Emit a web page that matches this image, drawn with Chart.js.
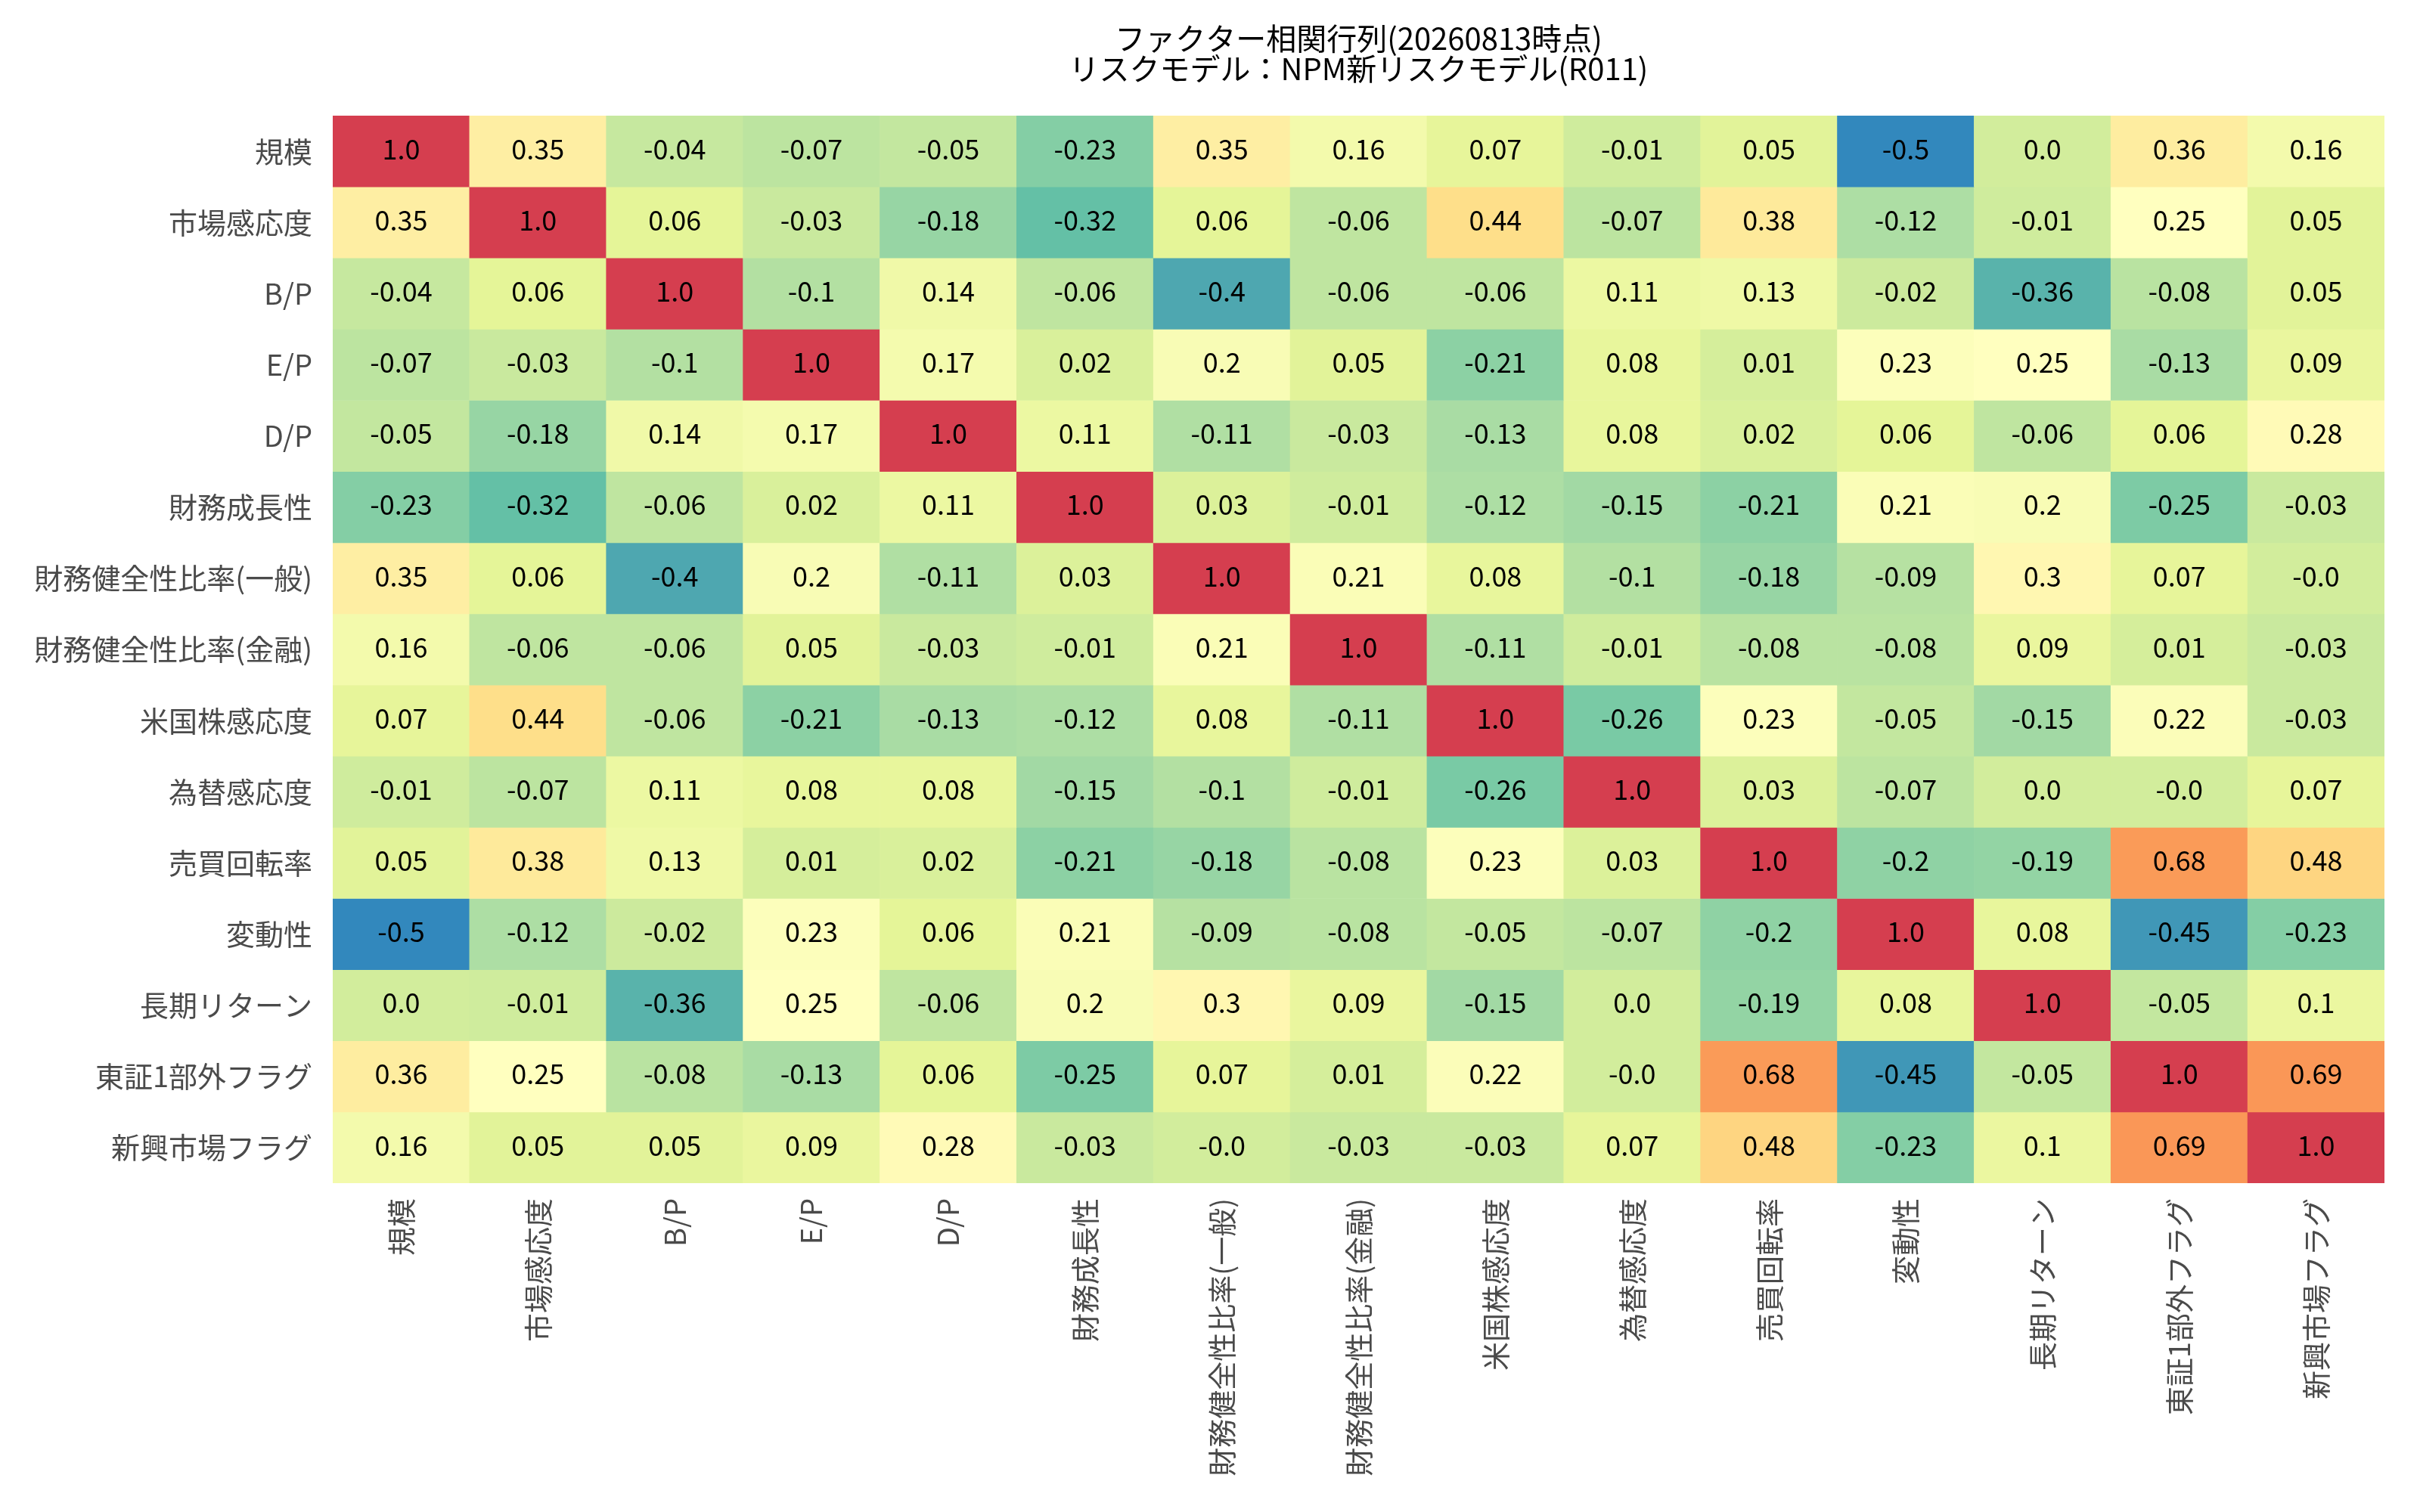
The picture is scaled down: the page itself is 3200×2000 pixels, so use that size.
<!DOCTYPE html>
<html>
<head>
<meta charset="utf-8">
<script src="https://cdn.jsdelivr.net/npm/chart.js@4.4.1/dist/chart.umd.min.js"></script>
<style>
html,body{margin:0;padding:0;background:#fff;}
#wrap{width:3200px;height:2000px;}
</style>
</head>
<body>
<div id="wrap"><canvas id="c" width="3200" height="2000"></canvas></div>
<script>
// ---- data ----
const factors = ['規模','市場感応度','B/P','E/P','D/P','財務成長性','財務健全性比率(一般)','財務健全性比率(金融)','米国株感応度','為替感応度','売買回転率','変動性','長期リターン','東証1部外フラグ','新興市場フラグ'];
const titleLines = ['ファクター相関行列(20260813時点)','リスクモデル：NPM新リスクモデル(R011)'];

const rowSize      = [1.0, 0.35, -0.04, -0.07, -0.05, -0.23, 0.35, 0.16, 0.07, -0.01, 0.05, -0.5, 0.0, 0.36, 0.16];
const rowMarket    = [0.35, 1.0, 0.06, -0.03, -0.18, -0.32, 0.06, -0.06, 0.44, -0.07, 0.38, -0.12, -0.01, 0.25, 0.05];
const rowBP        = [-0.04, 0.06, 1.0, -0.1, 0.14, -0.06, -0.4, -0.06, -0.06, 0.11, 0.13, -0.02, -0.36, -0.08, 0.05];
const rowEP        = [-0.07, -0.03, -0.1, 1.0, 0.17, 0.02, 0.2, 0.05, -0.21, 0.08, 0.01, 0.23, 0.25, -0.13, 0.09];
const rowDP        = [-0.05, -0.18, 0.14, 0.17, 1.0, 0.11, -0.11, -0.03, -0.13, 0.08, 0.02, 0.06, -0.06, 0.06, 0.28];
const rowGrowth    = [-0.23, -0.32, -0.06, 0.02, 0.11, 1.0, 0.03, -0.01, -0.12, -0.15, -0.21, 0.21, 0.2, -0.25, -0.03];
const rowHealthGen = [0.35, 0.06, -0.4, 0.2, -0.11, 0.03, 1.0, 0.21, 0.08, -0.1, -0.18, -0.09, 0.3, 0.07, -0.0];
const rowHealthFin = [0.16, -0.06, -0.06, 0.05, -0.03, -0.01, 0.21, 1.0, -0.11, -0.01, -0.08, -0.08, 0.09, 0.01, -0.03];
const rowUS        = [0.07, 0.44, -0.06, -0.21, -0.13, -0.12, 0.08, -0.11, 1.0, -0.26, 0.23, -0.05, -0.15, 0.22, -0.03];
const rowFX        = [-0.01, -0.07, 0.11, 0.08, 0.08, -0.15, -0.1, -0.01, -0.26, 1.0, 0.03, -0.07, 0.0, -0.0, 0.07];
const rowTurnover  = [0.05, 0.38, 0.13, 0.01, 0.02, -0.21, -0.18, -0.08, 0.23, 0.03, 1.0, -0.2, -0.19, 0.68, 0.48];
const rowVol       = [-0.5, -0.12, -0.02, 0.23, 0.06, 0.21, -0.09, -0.08, -0.05, -0.07, -0.2, 1.0, 0.08, -0.45, -0.23];
const rowLongRet   = [0.0, -0.01, -0.36, 0.25, -0.06, 0.2, 0.3, 0.09, -0.15, 0.0, -0.19, 0.08, 1.0, -0.05, 0.1];
const rowNonTSE1   = [0.36, 0.25, -0.08, -0.13, 0.06, -0.25, 0.07, 0.01, 0.22, -0.0, 0.68, -0.45, -0.05, 1.0, 0.69];
const rowEmerging  = [0.16, 0.05, 0.05, 0.09, 0.28, -0.03, -0.0, -0.03, -0.03, 0.07, 0.48, -0.23, 0.1, 0.69, 1.0];

const matrix = [rowSize,rowMarket,rowBP,rowEP,rowDP,rowGrowth,rowHealthGen,rowHealthFin,rowUS,rowFX,rowTurnover,rowVol,rowLongRet,rowNonTSE1,rowEmerging];

// ---- colour map (Spectral_r, trimmed) ----
const cmapStops = ['#3288bd','#66c2a5','#abdda4','#e6f598','#ffffbf','#fee08b','#fdae61','#f46d43','#d53e4f'];
const vmin = -0.5, vmax = 1.0;
function hexToRgb(h){return [parseInt(h.slice(1,3),16),parseInt(h.slice(3,5),16),parseInt(h.slice(5,7),16)];}
const stopRgb = cmapStops.map(hexToRgb);
function colorFor(v){
  let t = (v - vmin) / (vmax - vmin);
  t = Math.min(1, Math.max(0, t));
  const p = t * (stopRgb.length - 1);
  const i = Math.min(Math.floor(p), stopRgb.length - 2);
  const f = p - i;
  const a = stopRgb[i], b = stopRgb[i+1];
  const c = a.map((x,k)=>Math.round(x + (b[k]-x)*f));
  return 'rgb(' + c.join(',') + ')';
}
function fmt(v){
  if (Object.is(v, -0)) return '-0.0';
  let s = String(Math.round(v*100)/100);
  if (s.indexOf('.') < 0) s += '.0';
  return s;
}

const annotPlugin = {
  id: 'annot',
  afterDatasetsDraw(chart){
    const ctx = chart.ctx;
    ctx.save();
    ctx.font = '36px "Noto Sans CJK JP", sans-serif';
    ctx.fillStyle = '#000';
    ctx.textAlign = 'center';
    ctx.textBaseline = 'middle';
    matrix.forEach((row, r) => {
      const meta = chart.getDatasetMeta(r);
      meta.data.forEach((el, c) => {
        const y = (el.y + el.base) / 2;
        ctx.fillText(fmt(row[c]), el.x, y - 3);
      });
    });
    ctx.restore();
  }
};
const bgPlugin = {
  id: 'bg',
  beforeDraw(chart){
    const ctx = chart.ctx;
    ctx.save(); ctx.fillStyle = '#fff'; ctx.fillRect(0,0,chart.width,chart.height); ctx.restore();
  }
};

Chart.defaults.font.family = '"Noto Sans CJK JP", sans-serif';

new Chart(document.getElementById('c'), {
  type: 'bar',
  data: {
    labels: factors,
    datasets: matrix.map((row, r) => ({
      label: factors[r],
      data: factors.map(() => 1),
      backgroundColor: row.map(colorFor),
      borderWidth: 0,
      barPercentage: 1,
      categoryPercentage: 1,
      borderSkipped: false
    }))
  },
  options: {
    responsive: false,
    devicePixelRatio: 1,
    animation: false,
    layout: { padding: { left: 0, right: 47, top: 0, bottom: 0 } },
    plugins: {
      legend: { display: false },
      tooltip: { enabled: false },
      title: {
        display: true,
        fullSize: false,
        text: titleLines,
        color: '#000',
        font: { size: 40, weight: 'normal', lineHeight: 1.0 },
        padding: { top: 31, bottom: 42 }
      }
    },
    scales: {
      x: {
        stacked: true,
        grid: { display: false, drawTicks: false },
        border: { display: false },
        ticks: { autoSkip: false, minRotation: 90, maxRotation: 90, padding: 20, color: '#4a4a4a', font: { size: 38 } },
        afterFit: (s) => { s.height = 435; }
      },
      y: {
        type: 'linear',
        stacked: true,
        min: 0, max: 15,
        reverse: true,
        grid: { display: false, drawTicks: false },
        border: { display: false },
        afterBuildTicks: (s) => { s.ticks = factors.map((_, i) => ({ value: i + 0.5 })); },
        ticks: {
          autoSkip: false, padding: 27, color: '#4a4a4a', font: { size: 38 },
          callback: (v) => factors[Math.floor(v)]
        },
        afterFit: (s) => { s.width = 440; }
      }
    }
  },
  plugins: [bgPlugin, annotPlugin]
});
</script>
</body>
</html>
